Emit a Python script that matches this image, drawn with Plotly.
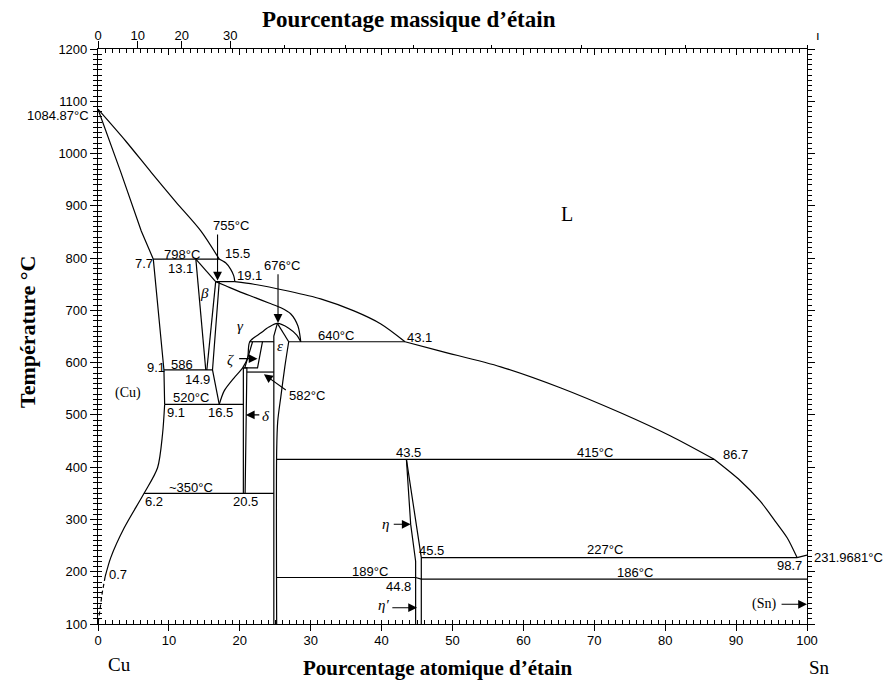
import plotly.graph_objects as go

SANS = "Liberation Sans"
SERIF = "Liberation Serif"

# composition in at.% Sn, temperature in °C
# liquidus, split at the invariant points
liq1_x, liq1_t = [0, 3.9, 7.5, 11.0, 14.5, 17.1], [1084.87, 1024, 964, 907, 852, 798]
liq2_x, liq2_t = [17.1, 18.0, 18.7, 19.15, 19.3], [798, 791, 779, 766, 755]
liq3_x, liq3_t = [19.3, 22.0, 26.8, 31.4, 36.1, 39.9, 43.3], [755, 750, 737, 722, 699, 674, 640]
liq4_x, liq4_t = [43.3, 48.3, 56.8, 65.2, 73.7, 80.7, 86.9], [640, 622, 592, 552, 504, 460, 415]
liq5_x, liq5_t = [86.9, 90.6, 93.4, 95.5, 97.2, 98.6], [415, 374, 335, 297, 265, 227]
liq6_x, liq6_t = [98.6, 100], [227, 231.97]

sol_x = [0, 3.2, 6.1, 7.8]
sol_t = [1084.87, 965, 852, 798]

alpha_hi_x, alpha_hi_t = [7.8, 9.3, 9.4], [798, 586, 520]
alpha_lo_x = [9.4, 9.1, 8.4, 6.5, 3.7, 1.8, 1.0]
alpha_lo_t = [520, 463, 399, 350, 284, 227, 190]
alpha_dash_x = [1.0, 0.6, 0.2, 0.0]
alpha_dash_t = [190, 160, 120, 100]

beta_l_x, beta_l_t = [13.8, 15.2], [798, 586]
beta_r_x, beta_r_t = [16.6, 15.35], [755, 586]
beta_top_x, beta_top_t = [13.8, 16.6], [798, 755]
gam_l_x, gam_l_t = [17.1, 16.15, 17.1], [755, 586, 520]

gam_top_x = [16.6, 18.0, 20.1, 22.25, 24.1, 25.8, 27.2, 28.2, 28.6]
gam_top_t = [755, 747, 735, 724, 714, 705, 693, 670, 640]

dome_x = [17.1, 17.8, 19.2, 20.4, 21.1, 21.4, 23.0, 24.1, 25.3, 26.9, 28.0, 28.6]
dome_t = [520, 546, 571, 590, 609, 640, 657, 668, 675, 666, 653, 640]

eps_top_x, eps_top_t = [25.3, 26.9], [675, 640]
eps_r_x = [26.9, 26.35, 25.8, 25.35, 25.2, 25.2]
eps_r_t = [640, 592, 536, 488, 431, 100]
eps_l_x = [25.3, 24.8, 24.8]
eps_l_t = [675, 651, 100]

zeta_x = [21.8, 20.7, 22.5, 23.2]
zeta_t = [640, 590, 590, 640]

delta_x = [20.5, 20.5, 21.0, 20.75]
delta_t = [350, 590, 590, 350]

eta_l_x = [43.5, 44.1, 44.8, 44.8, 44.8]
eta_l_t = [415, 291, 220, 189, 100]
eta_r_x = [43.5, 45.6, 45.6]
eta_r_t = [415, 227, 100]
eta_step_x, eta_step_t = [44.8, 45.6], [189, 186]

# isotherms
iso_t = [798, 755, 640, 640, 586, 582, 520, 415, 350, 227, 189, 186]
iso_x0 = [7.8, 16.6, 21.4, 26.9, 9.3, 21.0, 9.4, 25.2, 6.5, 45.6, 25.2, 45.6]
iso_x1 = [17.1, 19.3, 24.8, 43.3, 16.15, 24.8, 20.5, 86.9, 24.8, 98.6, 44.8, 100]

wt_ticks = [0, 10, 20, 30, 40, 50, 60, 70, 80, 90, 100]
wt_labels = ["0", "10", "20", "30"]


def wt_to_at(w):
    a = w / 118.71
    b = (100 - w) / 63.546
    return 100 * a / (a + b)


fig = go.Figure()


def line(x, y, dash="solid", shape="linear"):
    fig.add_trace(go.Scatter(x=x, y=y, mode="lines",
                             line=dict(color="black", width=1.2, dash=dash, shape=shape, smoothing=0.8),
                             hoverinfo="skip"))


# smooth curves
for xs, ts in [(liq1_x, liq1_t), (liq2_x, liq2_t), (liq3_x, liq3_t), (liq4_x, liq4_t), (liq5_x, liq5_t),
               (alpha_lo_x, alpha_lo_t), (gam_top_x, gam_top_t), (dome_x, dome_t), (eps_r_x, eps_r_t)]:
    line(xs, ts, shape="spline")

# straight boundaries
for xs, ts in [(liq6_x, liq6_t), (sol_x, sol_t), (alpha_hi_x, alpha_hi_t), (beta_l_x, beta_l_t),
               (beta_r_x, beta_r_t), (beta_top_x, beta_top_t), (gam_l_x, gam_l_t), (eps_top_x, eps_top_t),
               (eps_l_x, eps_l_t), (zeta_x, zeta_t), (delta_x, delta_t), (eta_l_x, eta_l_t),
               (eta_r_x, eta_r_t), (eta_step_x, eta_step_t)]:
    line(xs, ts)
line(alpha_dash_x, alpha_dash_t, dash="4px,3px")

for t, x0, x1 in zip(iso_t, iso_x0, iso_x1):
    line([x0, x1], [t, t])

# dummy traces so the extra axes are drawn
fig.add_trace(go.Scatter(x=[], y=[], xaxis="x2", yaxis="y"))
fig.add_trace(go.Scatter(x=[], y=[], xaxis="x3", yaxis="y"))
fig.add_trace(go.Scatter(x=[], y=[], xaxis="x", yaxis="y2"))
fig.add_trace(go.Scatter(x=[], y=[], xaxis="x", yaxis="y3"))


def lab(text, x, y, size=13, family=SANS, **kw):
    kw.setdefault("xanchor", "center")
    kw.setdefault("yanchor", "middle")
    fig.add_annotation(text=text, x=x, y=y, showarrow=False, font=dict(family=family, size=size, color="black"),
                       **kw)


def arrow(x0, y0, x1, y1):
    fig.add_annotation(x=x1, y=y1, ax=x0, ay=y0, axref="x", ayref="y", text="", showarrow=True,
                       arrowhead=2, arrowsize=1.6, arrowwidth=1.1, arrowcolor="black")


for txt, x, y in [("798°C", 11.8, 807), ("7.7", 6.5, 789), ("13.1", 11.7, 780), ("15.5", 19.7, 808),
                  ("755°C", 18.7, 863), ("19.1", 21.3, 766), ("676°C", 26.0, 785), ("640°C", 33.5, 651),
                  ("43.1", 45.3, 648), ("9.1", 8.2, 590), ("586", 11.9, 597), ("14.9", 14.0, 568),
                  ("520°C", 13.1, 534), ("9.1", 11.0, 504), ("16.5", 17.3, 504), ("582°C", 29.5, 538),
                  ("~350°C", 13.1, 362), ("6.2", 7.9, 335), ("20.5", 20.85, 335), ("43.5", 43.85, 428),
                  ("415°C", 70.1, 429), ("86.7", 89.9, 425), ("45.5", 47.1, 240), ("227°C", 71.5, 243),
                  ("98.7", 97.6, 211), ("189°C", 38.4, 201), ("186°C", 75.8, 198), ("44.8", 42.4, 171),
                  ("0.7", 2.8, 195)]:
    lab(txt, x, y)

# labels outside the plotting area: x in paper units
lab("1084.87°C", -0.0099, 1072, xref="paper", xanchor="right")
lab("231.9681°C", 1.0075, 227, xref="paper", xanchor="left")

for txt, x, y in [("β", 15.0, 734), ("γ", 20.1, 670), ("ε", 25.6, 632), ("ζ", 18.7, 606), ("δ", 23.7, 498),
                  ("η", 40.6, 291), ("η′", 40.3, 136)]:
    lab("<i>" + txt + "</i>", x, y, size=15, family=SERIF)

lab("(Cu)", 4.2, 542, size=14, family=SERIF)
lab("(Sn)", 93.9, 138, size=14, family=SERIF)
lab("L", 66.2, 884, size=20, family=SERIF)

arrow(16.86, 848, 16.86, 757)
arrow(25.39, 772, 25.39, 676)
arrow(19.7, 607.6, 22.5, 607.6)
arrow(22.96, 500, 20.85, 500)
arrow(26.7, 545.7, 23.4, 577.7)
arrow(41.5, 290.7, 44.1, 290.7)
arrow(41.3, 131.2, 45.0, 131.2)
arrow(96.2, 137.7, 100, 137.7)

# axis titles and element names (paper units)
lab("<b>Pourcentage massique d’étain</b>", 0.4386, 1.052, size=23, family=SERIF, xref="paper", yref="paper")
lab("<b>Pourcentage atomique d’étain</b>", 0.4795, -0.0765, size=21, family=SERIF, xref="paper", yref="paper")
lab("<b>Température °C</b>", -0.0987, 0.508, size=22, family=SERIF, xref="paper", yref="paper", textangle=-90)
lab("Cu", 0.031, -0.0696, size=19, family=SERIF, xref="paper", yref="paper")
lab("Sn", 1.0183, -0.0748, size=19, family=SERIF, xref="paper", yref="paper")
lab("ı", 1.0155, 1.024, xref="paper", yref="paper")

tickfont = dict(family=SANS, size=13, color="black")
base = dict(showgrid=False, zeroline=False, linecolor="black", linewidth=1.2, tickcolor="black", tickwidth=1)
wt_pos = [wt_to_at(w) for w in wt_ticks]

fig.update_layout(
    width=887, height=687, margin=dict(l=98, r=80, t=49, b=63),
    paper_bgcolor="white", plot_bgcolor="white", showlegend=False,
    xaxis=dict(range=[0, 100], tick0=0, dtick=10, ticks="outside", ticklen=6, showline=True,
               ticklabelstandoff=-2,
               minor=dict(dtick=1, ticks="inside", ticklen=4, tickcolor="black"), tickfont=tickfont, **base),
    xaxis2=dict(range=[0, 100], overlaying="x", side="top", anchor="y", tickmode="array",
                tickvals=wt_pos[:4], ticktext=wt_labels, ticks="outside", ticklen=7, showline=True,
                ticklabelstandoff=-4,
                minor=dict(tickmode="array", tickvals=wt_pos[4:], ticks="outside", ticklen=3, tickcolor="black"),
                tickfont=tickfont, **base),
    xaxis3=dict(range=[0, 100], overlaying="x", side="top", anchor="y", tick0=0, dtick=10, ticks="inside",
                ticklen=6, showline=False, showticklabels=False,
                minor=dict(dtick=1, ticks="inside", ticklen=4, tickcolor="black"), **base),
    yaxis=dict(range=[100, 1200], tick0=100, dtick=100, ticks="outside", ticklen=7, showline=True,
               minor=dict(dtick=10, ticks="outside", ticklen=4, tickcolor="black"), tickfont=tickfont, **base),
    yaxis2=dict(range=[100, 1200], overlaying="y", side="right", anchor="x", tick0=100, dtick=100,
                ticks="outside", ticklen=7, showline=True, showticklabels=False,
                minor=dict(dtick=10, ticks="outside", ticklen=4, tickcolor="black"), **base),
    yaxis3=dict(range=[100, 1200], overlaying="y", side="left", anchor="x", tick0=100, dtick=100,
                ticks="inside", ticklen=4, showline=False, showticklabels=False,
                minor=dict(dtick=10, ticks="inside", ticklen=4, tickcolor="black"), **base),
)

# drop the browser's default 8 px body margin so the figure fills the window exactly
fig.write_html("out.html", config={"displayModeBar": False},
               post_script="document.body.style.margin='0';")
